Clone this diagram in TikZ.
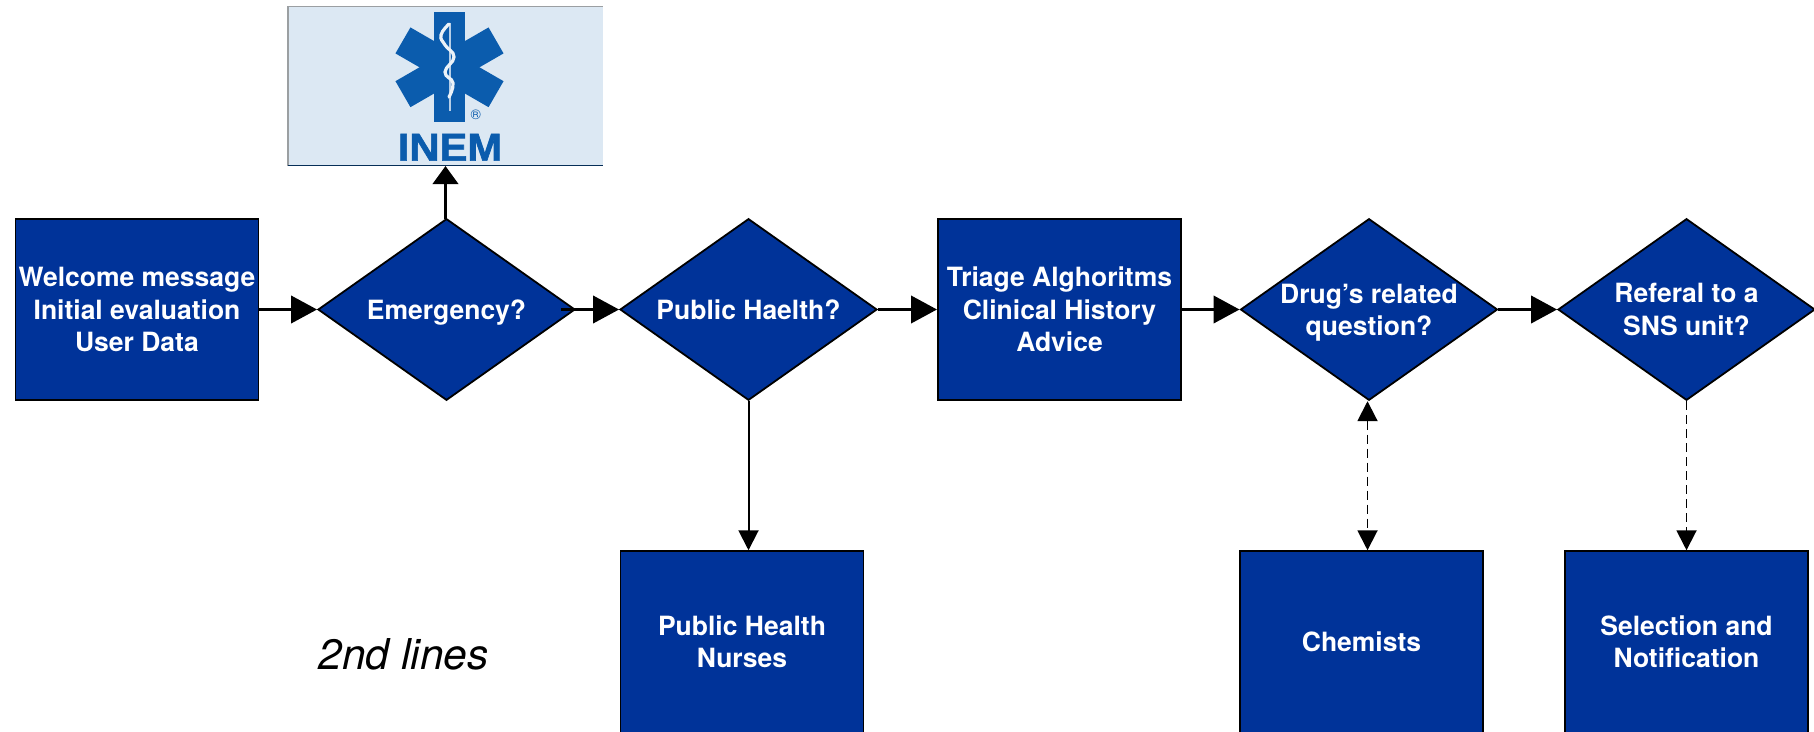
\documentclass[tikz,border=0pt]{standalone}
\usepackage{fontspec}
\setmainfont{TeX Gyre Heros}
\newfontfamily\inemfont{Liberation Sans Bold}[FakeBold=1.5]
\usetikzlibrary{shapes.geometric,arrows.meta}
\definecolor{nodeblue}{HTML}{003399}
\definecolor{logoblue}{HTML}{0B5CAD}
\definecolor{logobg}{HTML}{DCE8F3}
\tikzset{
  txt/.style={font=\fontsize{26.5}{32.3}\selectfont\bfseries,text=white,align=center},
  boxnode/.style={txt,draw=black,line width=1.9pt,fill=nodeblue,rectangle,inner sep=0pt,minimum width=243pt,minimum height=181.6pt},
  decision/.style={txt,draw=black,line width=1.8pt,fill=nodeblue,diamond,inner sep=-20pt,minimum width=257pt,minimum height=181.6pt},
  flow/.style={line width=3.8pt,-{Triangle[length=26pt,width=27pt]}},
  thinflow/.style={line width=2pt,-{Triangle[length=20pt,width=20pt]}},
  dashflow/.style={line width=1.9pt,dash pattern=on 9pt off 5pt,-{Triangle[length=20pt,width=20pt]}},
  dashboth/.style={line width=1.9pt,dash pattern=on 9pt off 5pt,{Triangle[length=20pt,width=20pt]}-{Triangle[length=20pt,width=20pt]}},
  armbar/.style={fill=logoblue,draw=none,rectangle,minimum width=31pt,minimum height=110pt,inner sep=0pt},
  armtilt/.style={fill=logoblue,draw=none,rectangle,minimum width=30pt,minimum height=107.5pt,inner sep=0pt}
}
\begin{document}
\begin{tikzpicture}[x=1pt,y=-1pt]
\path[use as bounding box,clip] (0,0) rectangle (1814,731);
\fill[white] (0,0) rectangle (1814,731);
% INEM logo
\fill[logobg] (288,6) rectangle (603,166);
\draw[color=gray!70!logobg,line width=1.5pt] (288,166) -- (288,6.5) -- (603,6.5);
\draw[color=logoblue!50!black,line width=1.8pt] (288,165.5) -- (603,165.5);
\node[armbar] (arma) at (449.5,67.3) {};
\node[armtilt,rotate=60] (armb) at (449.5,67.3) {};
\node[armtilt,rotate=-60] (armc) at (449.5,67.3) {};
\draw[white!70!logoblue,line width=1.4pt] (450,23) -- (450,111);
\draw[white!92!logoblue,line width=3.2pt,line cap=round] plot[smooth,tension=0.8] coordinates {(449,24) (441,35) (445,45) (454,57) (445,72) (453,83) (449,97)};
\node[text=logoblue,font=\fontsize{14}{14}\selectfont,inner sep=0pt] (reg) at (475.7,115) {®};
\node[text=logoblue,font=\inemfont\fontsize{39}{39}\selectfont,inner sep=0pt,xscale=1.07,anchor=base] (inem) at (450,160.7) {INEM};
\coordinate (inemb) at (445.5,166);
% nodes
\node[boxnode] (welcome) at (137,309.5) {Welcome message\\Initial evaluation\\User Data};
\node[decision,text depth=0pt] (emerg) at (446.5,309.5) {Emergency?};
\node[decision] (health) at (748.5,309.5) {Public Haelth?};
\node[boxnode] (triage) at (1059.5,309.5) {Triage Alghoritms\\Clinical History\\Advice};
\node[decision,text depth=0pt] (drug) at (1369,309.5) {Drug’s related\\question?};
\node[decision] (referal) at (1686.5,309.5) {Referal to a\\SNS unit?};
\node[boxnode] (nurses) at (742,642) {Public Health\\Nurses};
\node[boxnode] (chem) at (1361.5,642) {Chemists};
\node[boxnode] (select) at (1686.5,642) {Selection and\\Notification};
\node[font=\fontsize{42.5}{42.5}\selectfont\itshape,inner sep=0pt] (second) at (403.5,654) {2nd lines};
% connectors
\coordinate (emout) at (561,309.5);
\coordinate (upstart) at (445.5,218.7);
\draw[flow] (welcome.east) -- (emerg.west);
\draw[flow] (emout) -- (health.west);
\draw[flow] (health.east) -- (triage.west);
\draw[flow] (triage.east) -- (drug.west);
\draw[flow] (drug.east) -- (referal.west);
\draw[line width=3.8pt,-{Triangle[length=18pt,width=25pt]}] (upstart) -- (inemb);
\draw[thinflow] (health.south) -- (health.south |- nurses.north);
\draw[dashboth] ([xshift=-1.5pt]drug.south) -- ([xshift=-1.5pt]drug.south |- chem.north);
\draw[dashflow] (referal.south) -- (referal.south |- select.north);
\end{tikzpicture}
\end{document}
